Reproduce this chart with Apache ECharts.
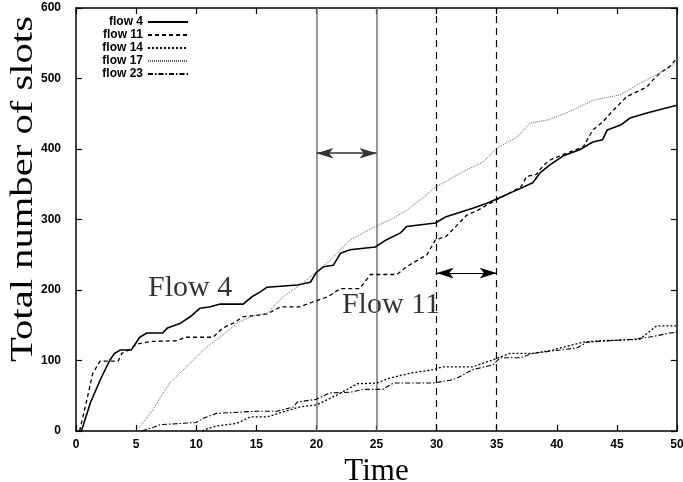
<!DOCTYPE html>
<html>
<head>
<meta charset="utf-8">
<script src="https://cdn.jsdelivr.net/npm/echarts@6/dist/echarts.min.js"></script>
<style>html,body{margin:0;padding:0;background:#fff}#c{width:683px;height:482px}</style>
</head>
<body>
<div id="c"></div>
<script>
var seriesNames = ['flow 4', 'flow 11', 'flow 14', 'flow 17', 'flow 23'];

var flow4 = [[0.45,0],[1.2,40],[2.0,72],[2.8,100],[3.2,110],[3.7,115],[4.6,115],[5.3,133],[5.9,139],[7.2,139],[7.6,146],[8.7,153],[9.5,162],[10.3,174],[11.1,176],[12,180],[13.9,180],[14.6,190],[15.3,197],[15.9,204],[18.4,207],[19.5,211],[20,225],[20.6,233],[21.4,235],[22,252],[22.8,257],[24.9,261],[25.8,271],[27,281],[27.5,290],[29.9,295],[30.8,304],[31.7,309],[33,316],[34.2,323],[35,329],[36.7,342],[38,352],[38.6,366],[39.4,377],[40.5,390],[41.1,394],[41.9,399],[43,410],[43.8,413],[44.2,427],[45.3,434],[46.1,444],[47.5,451],[48.6,456],[50,462]];

var flow11 = [[0.3,0],[0.9,44],[1.4,82],[2.0,99],[3.5,99],[3.8,110],[4.5,116],[5.0,123],[6.2,127],[8.4,128],[9.1,133],[11.4,133],[12.2,146],[13.1,153],[13.9,162],[15.0,164],[15.9,166],[17,176],[18.6,176],[19.7,183],[20.9,190],[22,202],[23.6,202],[24.5,222],[26.7,222],[27.5,233],[29.2,250],[29.9,271],[30.8,276],[31.7,292],[32.5,306],[33.4,313],[35,328],[37,346],[37.5,361],[38.3,364],[38.9,377],[39.4,384],[40.5,392],[42.2,403],[43,427],[43.8,438],[44.7,455],[45.8,474],[47.5,488],[48,498],[48.6,508],[49.4,517],[50,529]];

var flow14 = [[10.5,0],[10.9,3],[11.7,7],[13.4,11],[14.5,20],[15.9,20],[17.2,27],[18.6,34],[20,37],[21.7,51],[23.4,67],[25,68],[26.1,75],[27.8,82],[29.7,87],[30.5,91],[33,91],[34.7,101],[36.1,110],[38,110],[39.7,115],[42.2,126],[43.6,128],[46.9,130],[48.3,149],[50,149]];

var flow17 = [[4.9,0],[5.6,12],[6.4,30],[7.1,50],[7.8,68],[8.5,80],[9.2,91],[10.6,115],[11.3,125],[12,133],[13.4,153],[14.5,162],[15.9,167],[17.2,190],[18.9,210],[20,226],[21,240],[22,257],[22.8,271],[24.9,290],[26.2,300],[27.5,313],[28.8,330],[29.9,346],[31,356],[32,366],[33.9,382],[35,401],[36.7,417],[37.8,437],[39.2,441],[40.8,451],[43,469],[45.3,477],[46.9,493],[48.6,508],[49.7,519],[50,524]];

var flow23 = [[5.5,0],[6,3],[6.4,5],[7,9],[10,12],[10.6,18],[11.7,25],[15,28],[16.7,28],[18.1,34],[18.4,41],[20,45],[21.1,54],[22.8,55],[23.9,59],[25.5,59],[26.4,68],[29.7,68],[31.1,72],[31.7,75],[33,87],[34.7,94],[35.3,104],[37,104],[38,110],[41.7,118],[42.5,126],[46.3,130],[48,134],[49.4,139],[50,140]];

var solidMarkers = [20, 25];
var dashedMarkers = [30, 35];
var arrow1 = [[20, 394], [25, 394]];
var arrow2 = [[30, 224], [35, 224]];
var textLabels = [['Flow 4', 9.5, 203], ['Flow 11', 26.2, 179]];

var xMin = 0, xMax = 50, xStep = 5;
var yMin = 0, yMax = 600, yStep = 100;

var serif = '"Liberation Serif", "Times New Roman", serif';
var sans = '"Liberation Sans", Arial, Helvetica, sans-serif';

var styles = [
  {color: '#000', width: 1.6, type: 'solid'},
  {color: '#000', width: 1.3, type: [4, 3]},
  {color: '#000', width: 1.3, type: [2, 2]},
  {color: '#555', width: 0.9, type: [1, 1]},
  {color: '#000', width: 1.1, type: [5, 2, 1.5, 2]}
];
var datas = [flow4, flow11, flow14, flow17, flow23];

var series = seriesNames.map(function (n, i) {
  return {
    name: n, type: 'line', data: datas[i], symbol: 'none', showSymbol: false,
    animation: false, silent: true, z: 5,
    lineStyle: styles[i], itemStyle: {color: styles[i].color}
  };
});

var vData = [];
solidMarkers.forEach(function (x) {
  vData.push({xAxis: x, lineStyle: {color: '#777', width: 1.5, type: 'solid'}});
});
dashedMarkers.forEach(function (x) {
  vData.push({xAxis: x, lineStyle: {color: '#000', width: 1.2, type: [7, 5]}});
});

series.push({
  name: '_vlines', type: 'line', data: [], silent: true, animation: false,
  markLine: {
    silent: true, animation: false, symbol: ['none', 'none'],
    label: {show: false}, data: vData
  }
});

series.push({
  name: '_arrows', type: 'line', data: [], silent: true, animation: false,
  markLine: {
    silent: true, animation: false,
    symbol: ['arrow', 'arrow'], symbolSize: [8, 17],
    label: {show: false},
    data: [
      [{coord: arrow1[0], lineStyle: {color: '#333', width: 1.6, type: 'solid'}}, {coord: arrow1[1]}],
      [{coord: arrow2[0], lineStyle: {color: '#000', width: 1.2, type: 'solid'}}, {coord: arrow2[1]}]
    ]
  }
});

series.push({
  name: '_labels', type: 'scatter', silent: true, animation: false,
  symbolSize: 0,
  data: textLabels.map(function (t) { return {name: t[0], value: [t[1], t[2]]}; }),
  label: {
    show: true, position: 'inside', formatter: function (p) { return p.name; },
    fontFamily: serif, fontSize: 30, color: '#000'
  }
});

var axisCommon = {
  type: 'value', splitLine: {show: false},
  axisLine: {show: true, onZero: false, lineStyle: {color: '#000', width: 1.5}},
  axisTick: {show: true, inside: true, length: 6, lineStyle: {color: '#000', width: 1.2}}
};

var chart = echarts.init(document.getElementById('c'), null, {renderer: 'canvas'});
chart.setOption({
  animation: false,
  backgroundColor: '#fff',
  grid: {left: 76, right: 6, top: 8, bottom: 51, containLabel: false, outerBoundsMode: 'none'},
  legend: {
    data: seriesNames,
    orient: 'vertical', align: 'right',
    left: 93, top: 11, itemWidth: 40, itemHeight: 10, itemGap: 1,
    itemStyle: {color: 'rgba(0,0,0,0)', borderWidth: 0, opacity: 0},
    formatter: '{a|{name}}',
    textStyle: {
      rich: {a: {width: 45, align: 'right', fontFamily: sans, fontSize: 12, fontWeight: 'bold', color: '#000', lineHeight: 11}}
    },
    selectedMode: false
  },
  xAxis: [
    Object.assign({}, axisCommon, {
      min: xMin, max: xMax, interval: xStep, position: 'bottom',
      axisLabel: {color: '#000', fontFamily: sans, fontSize: 12, fontWeight: 'bold', margin: 8},
      name: 'Time', nameLocation: 'middle', nameGap: 18,
      nameTextStyle: {fontFamily: serif, fontSize: 31, color: '#000'}
    }),
    Object.assign({}, axisCommon, {
      min: xMin, max: xMax, interval: xStep, position: 'top', axisLabel: {show: false}
    })
  ],
  yAxis: [
    Object.assign({}, axisCommon, {
      min: yMin, max: yMax, interval: yStep, position: 'left',
      axisLabel: {color: '#000', fontFamily: sans, fontSize: 12, fontWeight: 'bold', margin: 15}
    }),
    Object.assign({}, axisCommon, {
      min: yMin, max: yMax, interval: yStep, position: 'right', axisLabel: {show: false}
    })
  ],
  graphic: [{
    type: 'text', x: 24, y: 189, rotation: Math.PI / 2, scaleX: 1.27, scaleY: 1,
    style: {text: 'Total number of slots', fontFamily: serif, fontSize: 32, fill: '#000', align: 'center', verticalAlign: 'middle'}
  }],
  series: series
});
</script>
</body>
</html>
